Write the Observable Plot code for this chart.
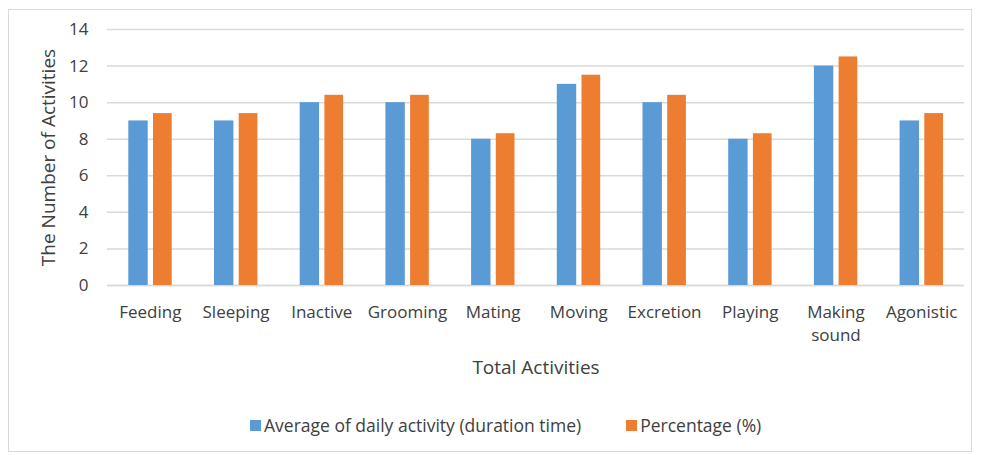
<!DOCTYPE html>
<html>
<head>
<meta charset="utf-8">
<script src="https://cdn.jsdelivr.net/npm/d3@7"></script>
<script src="https://cdn.jsdelivr.net/npm/@observablehq/plot@0.6"></script>
<style>
  body { margin: 0; background: #fff; font-family: "Open Sans", Lato, sans-serif; }
  #frame { position: absolute; left: 8px; top: 9px; width: 964px; height: 443px; border: 1px solid #d9d9d9; box-sizing: border-box; }
  #chart { position: absolute; left: 0; top: 0; }
  #legend { position: absolute; top: 413px; left: 250px; display: flex; align-items: center; gap: 45px; font-size: 17.5px; line-height: 24px; color: #404040; white-space: nowrap; }
  #legend .item { display: flex; align-items: center; }
  #legend span.sw { display: inline-block; width: 11px; height: 11px; margin-right: 3px; }
</style>
</head>
<body>
<div id="frame"></div>
<div id="chart"></div>
<div id="legend"></div>
<script>
const categories = ["Feeding", "Sleeping", "Inactive", "Grooming", "Mating", "Moving", "Excretion", "Playing", "Making sound", "Agonistic"];
const seriesNames = ["Average of daily activity (duration time)", "Percentage (%)"];
const averageValues = [9, 9, 10, 10, 8, 11, 10, 8, 12, 9];
const percentageValues = [9.4, 9.4, 10.4, 10.4, 8.3, 11.5, 10.4, 8.3, 12.5, 9.4];
const yTicks = [0, 2, 4, 6, 8, 10, 12, 14];
const colors = ["#5B9BD5", "#ED7D31"];

const avgRows = categories.map((c, i) => ({category: c, series: seriesNames[0], value: averageValues[i]}));
const pctRows = categories.map((c, i) => ({category: c, series: seriesNames[1], value: percentageValues[i]}));

const chart = Plot.plot({
  width: 992,
  height: 400,
  marginLeft: 107,
  marginRight: 28,
  marginTop: 29,
  marginBottom: 115,
  style: {fontFamily: "'Open Sans', Lato, sans-serif", fontSize: "17px", color: "#404040"},
  x: {domain: categories, padding: 0, round: false},
  y: {domain: [0, 14]},
  color: {domain: seriesNames, range: colors},
  marks: [
    Plot.gridY(yTicks, {stroke: "#d9d9d9", strokeOpacity: 1, strokeWidth: 1.5}),
    Plot.ruleY([0], {stroke: "#d9d9d9", strokeWidth: 1.5}),
    Plot.barY(avgRows, {x: "category", y: "value", fill: "series", insetLeft: 21.3, insetRight: 45}),
    Plot.barY(pctRows, {x: "category", y: "value", fill: "series", insetLeft: 46, insetRight: 21}),
    Plot.axisY(yTicks, {tickSize: 0, tickPadding: 19, fontSize: 17, label: null}),
    Plot.axisY({label: "The Number of Activities", ticks: [], tickSize: 0, labelAnchor: "center", labelArrow: "none", labelOffset: 66, fontSize: 19}),
    Plot.axisX({tickSize: 0, tickPadding: 16, lineHeight: 1.35, fontSize: 17, tickFormat: d => d.replace(" ", "\n"), label: null}),
    Plot.axisX({label: "Total Activities", ticks: [], tickSize: 0, labelAnchor: "center", labelArrow: "none", labelOffset: 88, fontSize: 19})
  ]
});
document.getElementById("chart").appendChild(chart);

const legend = document.getElementById("legend");
seriesNames.forEach((s, i) => {
  const item = document.createElement("div");
  item.className = "item";
  item.innerHTML = `<span class="sw" style="background:${colors[i]}"></span>${s}`;
  legend.appendChild(item);
});
</script>
</body>
</html>
